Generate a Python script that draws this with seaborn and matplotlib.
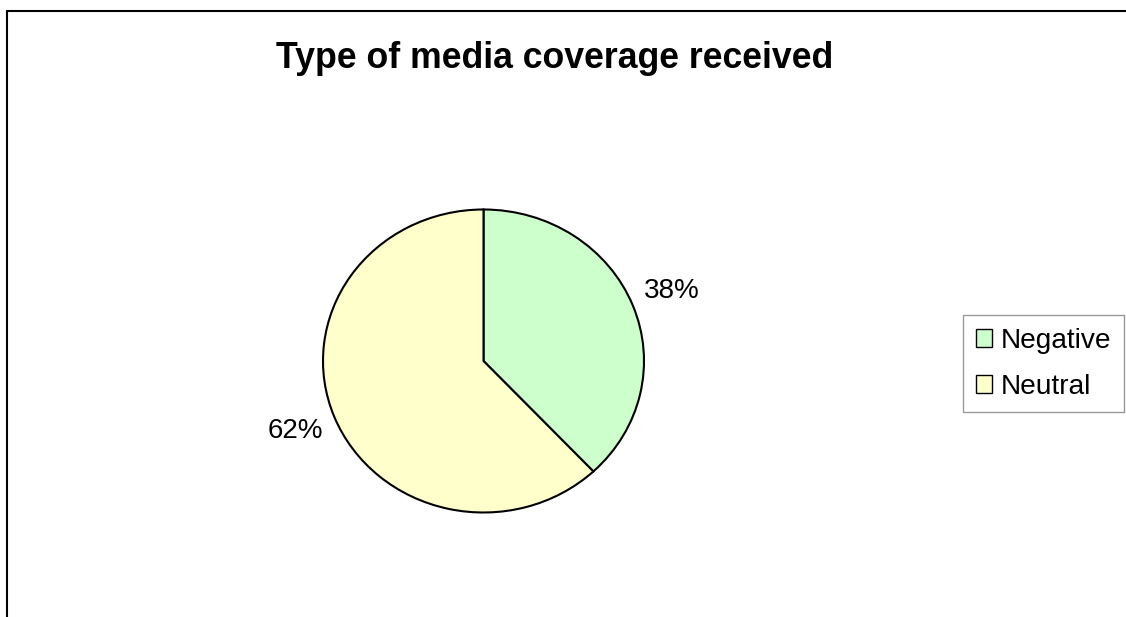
import matplotlib
matplotlib.use("Agg")
import matplotlib.pyplot as plt
import seaborn as sns
from matplotlib.lines import Line2D

categories = ["Negative", "Neutral"]
values = [38, 62]
colors = ["#CCFFCC", "#FFFFCC"]
title = "Type of media coverage received"

sns.set_theme(style="white")
plt.rcParams['font.family'] = ['Liberation Sans', 'DejaVu Sans']

W, H = 1126, 617
fig = plt.figure(figsize=(W / 100, H / 100), dpi=100)
fig.patch.set_facecolor("white")

# pie area in pixels
cx, cy, rx, ry = 483.5, 361, 160.5, 151.5
ax = fig.add_axes([(cx - rx) / W, (H - cy - ry) / H, 2 * rx / W, 2 * ry / H])
wedges, texts, autotexts = ax.pie(
    values, colors=colors, startangle=90, counterclock=False,
    autopct='%.0f%%', pctdistance=1.26,
    wedgeprops=dict(edgecolor="black", linewidth=1.5),
    textprops=dict(fontsize=20, color="black"),
)
ax.set_aspect('auto')
ax.set_xlim(-1, 1)
ax.set_ylim(-1, 1)
ax.axis('off')
for w in wedges:
    w.set_clip_on(False)

fig.text(554.5 / W, 1 - 58 / H, title, ha='center', va='center',
         fontsize=25.7, fontweight='bold', color='black')

leg = fig.legend(wedges, categories, loc='upper left',
                 bbox_to_anchor=(963 / W, 1 - 315 / H),
                 fontsize=20.2, frameon=True, fancybox=False,
                 edgecolor='#808080', handlelength=0.6, handleheight=0.6,
                 handletextpad=0.3, labelspacing=0.72, borderpad=0.45,
                 borderaxespad=0, labelcolor='black')
leg.get_frame().set_linewidth(1.0)
for h in leg.legend_handles:
    h.set_linewidth(1.0)

# chart border (top and left visible)
x0 = 6.5 / W
y0 = 1 - 11 / H
fig.add_artist(Line2D([x0, 1], [y0, y0], transform=fig.transFigure,
                      color='black', linewidth=1.5))
fig.add_artist(Line2D([x0, x0], [0, y0], transform=fig.transFigure,
                      color='black', linewidth=1.5))

fig.savefig("out.png", dpi=100, facecolor="white")
